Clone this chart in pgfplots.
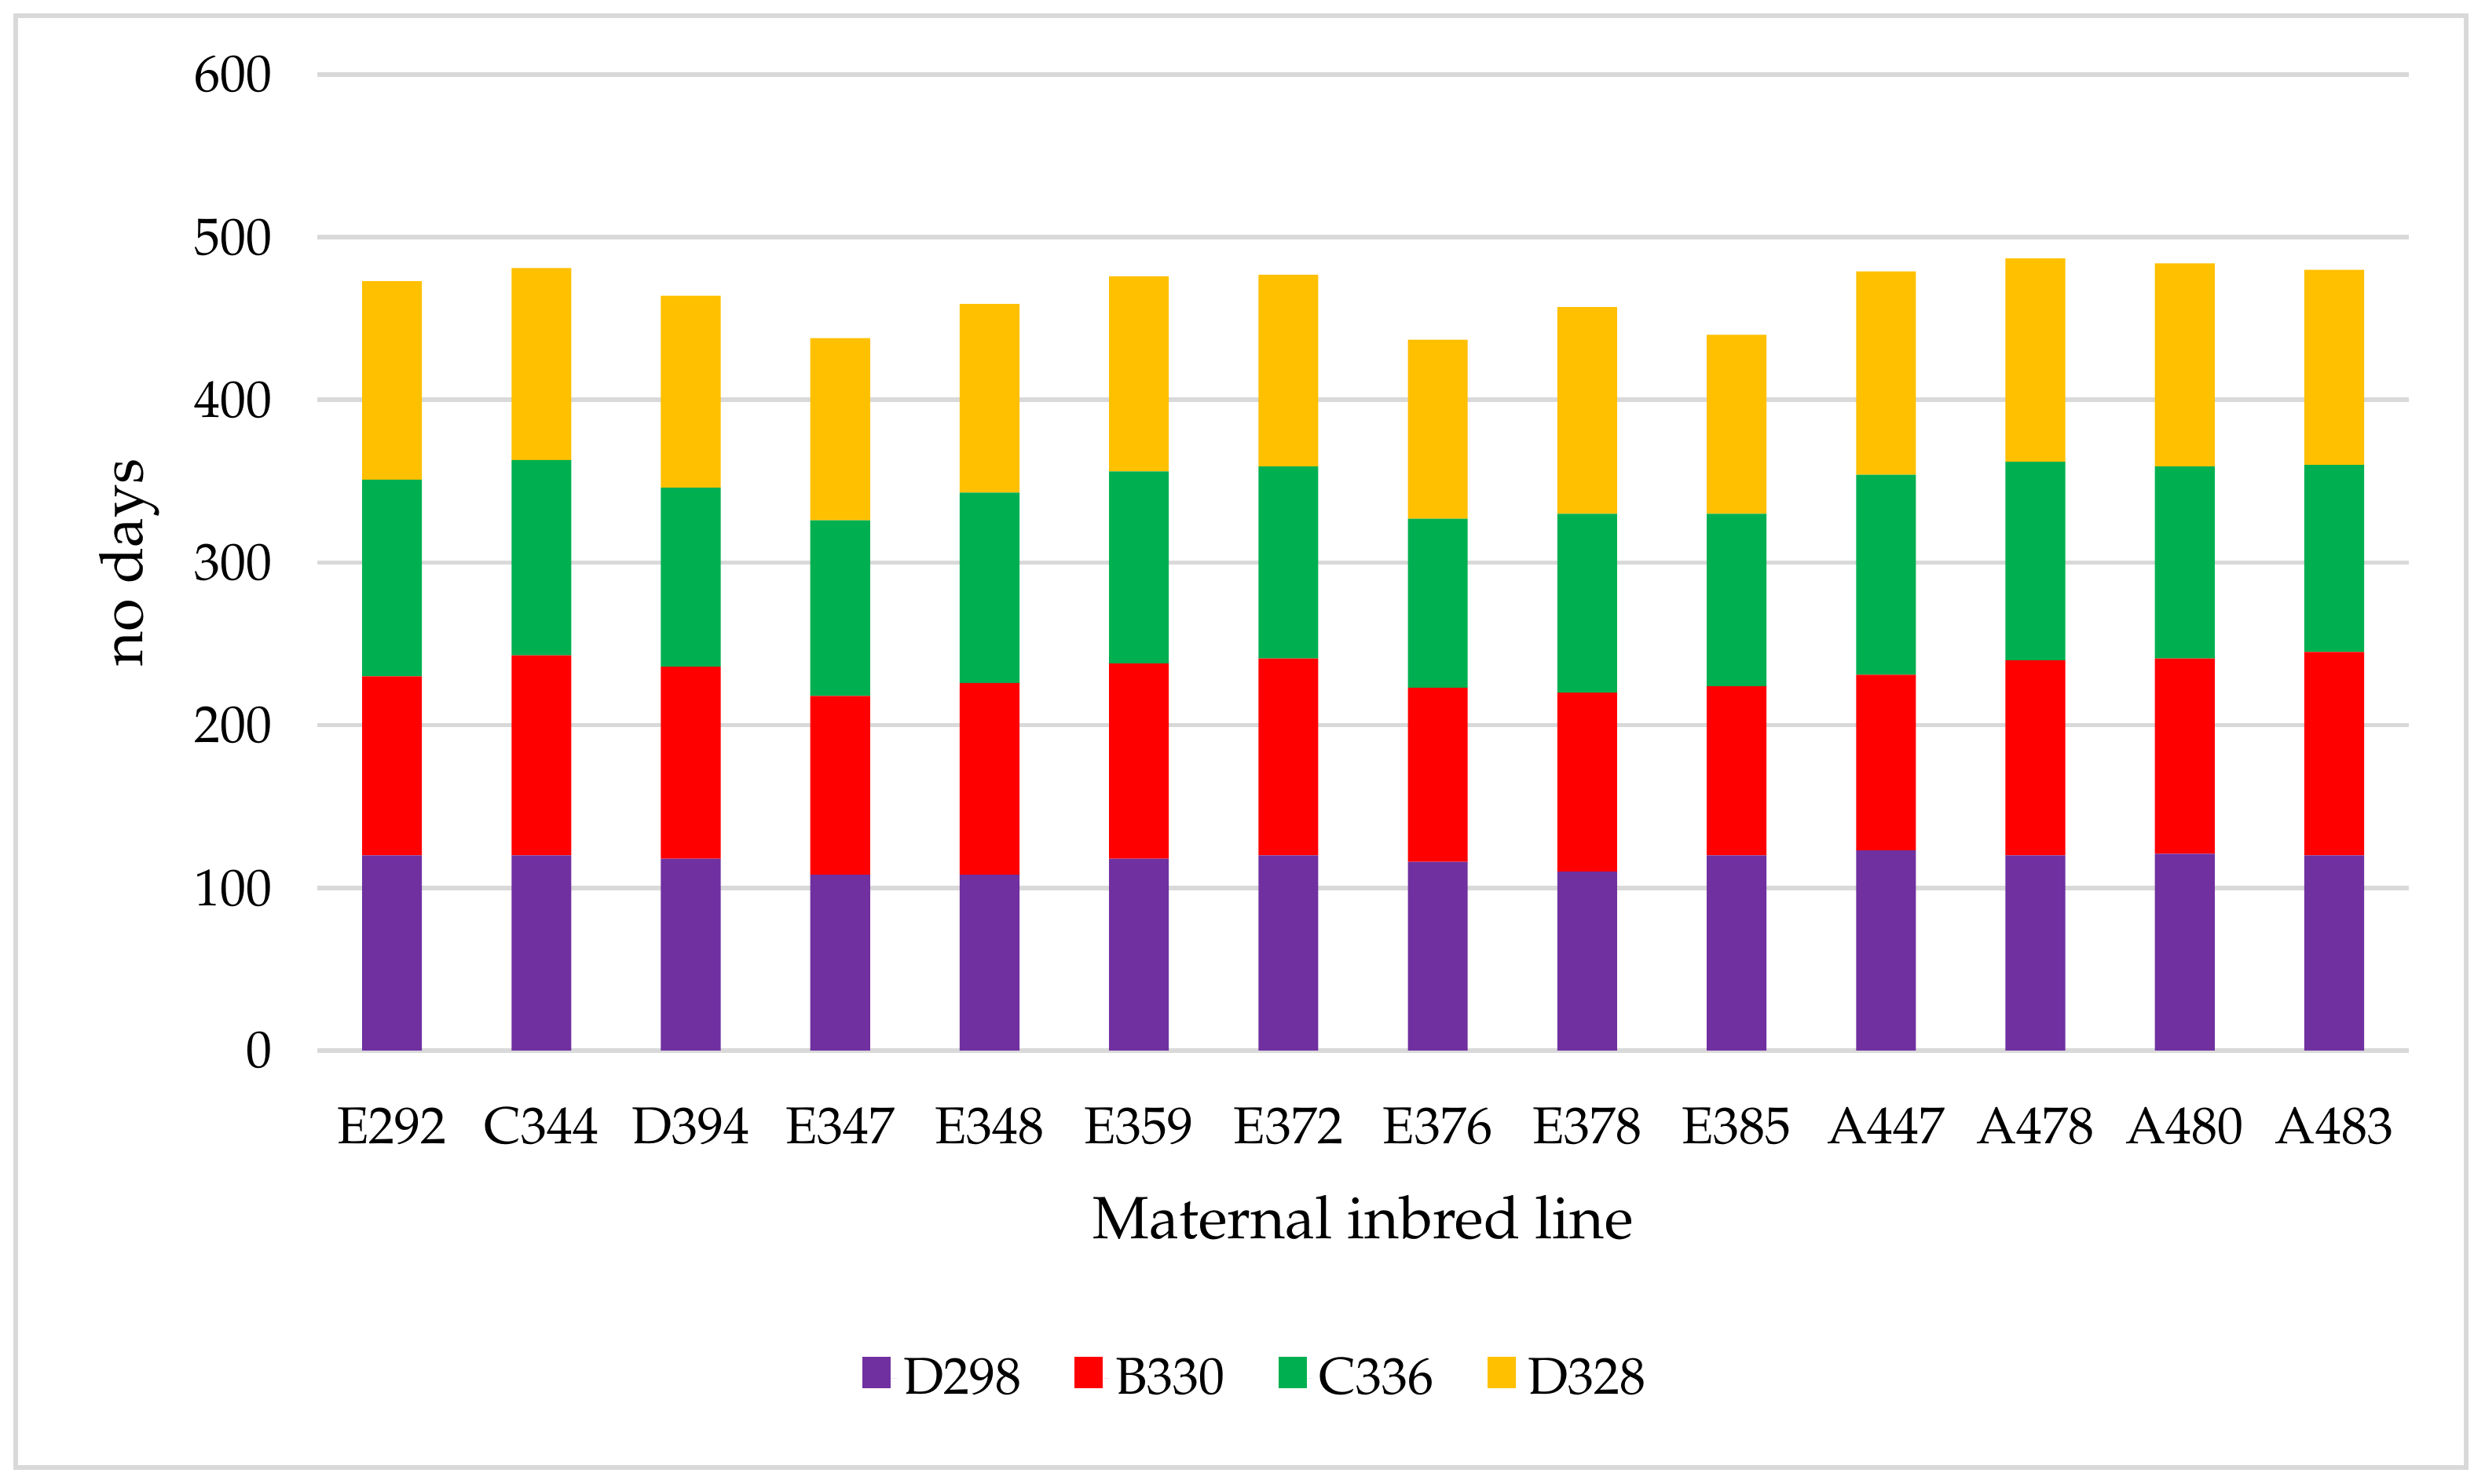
\documentclass[border=0pt]{standalone}
\usepackage[T1]{fontenc}
\usepackage{mathpazo}
\usepackage{pgfplots}
\usepackage{pgfplotstable}
\pgfplotsset{compat=1.18}
\definecolor{cpurple}{HTML}{7030A0}
\definecolor{cred}{HTML}{FF0000}
\definecolor{cgreen}{HTML}{00B050}
\definecolor{cyellow}{HTML}{FFC000}
\definecolor{gridgray}{HTML}{D9D9D9}
\pgfplotstableread{
x D298 B330 C336 D328
0 120 110 121 122
1 120 123 120 118
2 118 118 110 118
3 108 110 108 112
4 108 118 117 116
5 118 120 118 120
6 120 121 118 118
7 116 107 104 110
8 110 110 110 127
9 120 104 106 110
10 123 108 123 125
11 120 120 122 125
12 121 120 118 125
13 120 125 115 120
}\datatable
\begin{document}
\begin{tikzpicture}
\begin{axis}[
  scale only axis,
  width=665.75pt, height=310.75pt,
  ybar stacked,
  bar width=0.4,
  xmin=-0.5, xmax=13.5,
  ymin=0, ymax=600,
  enlargelimits=false,
  clip=false,
  xtick={0,1,...,13},
  xticklabels={E292,C344,D394,E347,E348,E359,E372,E376,E378,E385,A447,A478,A480,A483},
  ytick={0,100,...,600},
  axis line style={draw=none},
  major tick length=0pt,
  tick style={draw=none},
  ymajorgrids,
  grid style={color=gridgray, line width=1.4pt},
  tick label style={font=\fontsize{16.5}{19}\selectfont},
  yticklabel style={anchor=east, xshift=-10.75pt},
  xticklabel style={anchor=base, yshift=-29.75pt},
  xlabel={Maternal inbred line},
  ylabel={no days},
  label style={font=\fontsize{19}{22}\selectfont},
  xlabel style={at={(axis description cs:0.5,-0.193)}, anchor=base},
  ylabel style={at={(axis description cs:-0.0834,0.5)}, anchor=base},
  legend columns=4,
  legend style={at={(axis description cs:0.4495,-0.336)}, anchor=center, draw=none,
    font=\fontsize{16.5}{19}\selectfont,
    /tikz/every even column/.append style={column sep=15pt}},
  legend image code/.code={\path (0pt,0pt) -- (11pt,0pt); \fill[#1] (0pt,-3pt) rectangle (9pt,7pt);},
]
\path (axis description cs:-0.1517,-0.4433) rectangle (axis description cs:1.0364,1.0764);
\draw[gridgray, line width=1.5pt] (axis description cs:-0.1442,-0.4272) rectangle (axis description cs:1.0274,1.0603);
\addplot[fill=cpurple, draw=none] table[x=x, y=D298] {\datatable};
\addplot[fill=cred, draw=none] table[x=x, y=B330] {\datatable};
\addplot[fill=cgreen, draw=none] table[x=x, y=C336] {\datatable};
\addplot[fill=cyellow, draw=none] table[x=x, y=D328] {\datatable};
\legend{D298,B330,C336,D328}
\end{axis}
\end{tikzpicture}
\end{document}
